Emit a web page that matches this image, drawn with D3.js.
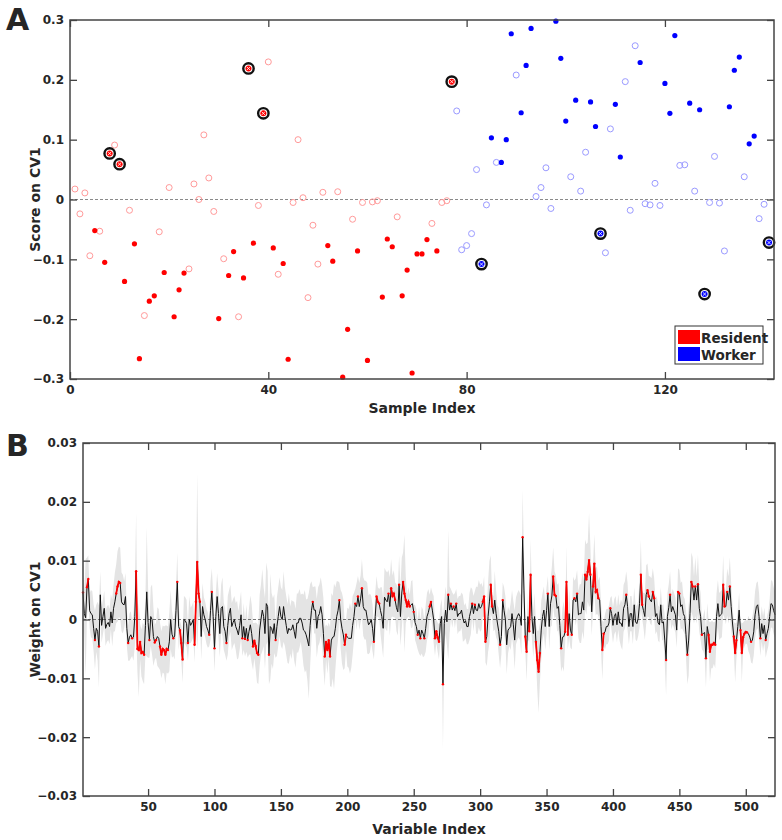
<!DOCTYPE html>
<html>
<head>
<meta charset="utf-8">
<script src="https://cdn.jsdelivr.net/npm/d3@7"></script>
<style>
  body { margin: 0; background: #fff; }
  svg { display: block; }
  text { font-family: "DejaVu Sans", sans-serif; font-weight: bold; fill: #262626; }
</style>
</head>
<body>
<svg width="782" height="840"></svg>
<script>
// ---- Panel A: scores of each sample on CV1 ----
const groupNames = ["Resident", "Worker"];
const groupColors = ["#ff0000", "#0000ff"];
const groupLight = ["#ff9a9a", "#9a9aff"];
const residentCount = 77; // samples 1..77 are residents, the rest workers

const sampleScore = [
  0.0175, -0.024, 0.011, -0.094, -0.052, -0.053, -0.105, 0.077, 0.091, 0.059,
  -0.137, -0.018, -0.074, -0.266, -0.194, -0.170, -0.161, -0.054, -0.122, 0.020,
  -0.196, -0.151, -0.123, -0.116, 0.026, 0.000, 0.108, 0.036, -0.020, -0.199,
  -0.099, -0.127, -0.087, -0.196, -0.131, 0.219, -0.073, -0.010, 0.144, 0.230,
  -0.081, -0.125, -0.107, -0.267, -0.005, 0.100, 0.003, -0.164, -0.043, -0.108,
  0.012, -0.077, -0.103, 0.013, -0.297, -0.217, -0.033, -0.086, -0.005, -0.269,
  -0.004, -0.002, -0.163, -0.066, -0.079, -0.029, -0.161, -0.118, -0.290, -0.091,
  -0.091, -0.067, -0.040, -0.086, -0.005, -0.002, 0.197, 0.148, -0.084, -0.077,
  -0.057, 0.050, -0.108, -0.009, 0.103, 0.062, 0.062, 0.100, 0.277, 0.208,
  0.145, 0.224, 0.286, 0.005, 0.020, 0.053, -0.015, 0.298, 0.236, 0.131,
  0.038, 0.166, 0.014, 0.079, 0.163, 0.122, -0.057, -0.089, 0.118, 0.159,
  0.071, 0.197, -0.018, 0.257, 0.229, -0.007, -0.009, 0.027, -0.010, 0.194,
  0.144, 0.274, 0.057, 0.058, 0.161, 0.014, 0.150, -0.158, -0.005, 0.072,
  -0.006, -0.086, 0.155, 0.216, 0.238, 0.038, 0.093, 0.106, -0.032, -0.008,
  -0.072
];
// h = hollow, f = filled, c = circled
const sampleMarker = (
  "hhhhfhfchc" + "fhffhffhfh" + "fffhhhhhhf" + "hffhfcfhch" + "fhffhhhhhh" +
  "hffhffhfhf" + "hhfffhffff" + "ffhfhhchhh" + "hhchfhfffh" + "fffhhhhfff" +
  "hfhhffchhf" + "fhhhfhhhhf" + "ffhhfhfchh" + "hhfffhffhh" + "c"
).split("");

const scoreTicksX = [0, 40, 80, 120];
const scoreTicksY = [-0.3, -0.2, -0.1, 0, 0.1, 0.2, 0.3];

// ---- Panel B: weight of each variable on CV1 (x 1e-3) ----
const weightMilli = [
  4.6, 1.0, 0.3, 5.5, 6.9, 1.5, 1.0, 0.8, -1.5, -3.5,
  -1.5, -2.0, -4.6, 4.2, -1.0, 0.5, 1.9, -1.5, -0.8, -0.5,
  -1.2, 1.3, -0.6, 1.9, 3.0, 4.4, 5.6, 6.4, 6.2, 3.0,
  2.6, 2.5, 3.9, -1.5, -4.0, -3.0, -2.6, -3.2, -3.0, 0.5,
  8.2, -5.0, -5.2, -3.8, -5.7, -5.5, -6.0, -1.0, 4.7, -0.5,
  -3.5, 0.5, 0.0, -2.9, -3.9, -3.5, -2.9, -3.2, -4.6, -6.0,
  -5.0, -5.2, -6.0, -5.0, -5.2, -3.8, 0.0, -2.5, -3.2, -2.8,
  1.5, 6.4, -1.2, -1.8, -4.0, -6.8, 0.0, -0.2, -0.7, -4.0,
  0.0, -1.0, -0.6, 0.0, -4.3, 3.0, 9.8, 4.4, 3.0, -2.9,
  2.2, 0.8, 0.0, -1.2, -1.8, -2.6, 1.5, 4.7, 0.5, -4.9,
  0.5, 3.9, 1.0, -2.4, 1.9, 2.2, -1.2, -2.0, -4.0, -1.0,
  1.0, 1.9, -1.2, -0.5, 0.0, -1.2, -1.8, -2.6, -1.0, 0.8,
  -3.2, -1.2, -3.3, -1.5, -3.5, -2.0, -0.9, -2.4, -4.6, -3.6,
  -4.5, -5.7, -6.0, -1.8, 0.0, 1.6, 0.5, -2.4, 2.7, 2.2,
  -6.0, -1.2, -1.5, -2.4, -0.7, -3.5, -1.2, 0.5, 2.2, 0.5,
  0.0, 2.2, 0.5, -1.0, -2.4, -1.5, -1.8, -1.7, -0.9, -2.0,
  -3.2, -0.6, -0.6, 0.2, 0.2, -0.6, -1.8, -2.0, -2.6, -3.5,
  -4.5, -1.0, 1.5, 3.0, 1.6, 1.6, -1.5, 0.5, 1.0, 2.2,
  0.8, -2.4, -6.3, -3.8, -5.2, -3.5, -6.3, -3.5, -3.0, -2.9,
  -1.5, 0.5, 1.5, 3.3, 0.0, -1.5, -2.6, -4.3, -2.6, -3.0,
  -3.2, -3.2, -3.2, -1.0, 0.5, 2.7, 2.2, 3.9, 2.2, 3.5,
  5.3, 2.2, 1.6, 1.6, 0.2, -0.9, -0.6, 0.0, -1.5, -3.8,
  0.5, 3.9, 3.0, 2.7, 1.5, 0.5, -1.5, 3.8, 3.3, 3.0,
  4.4, 2.2, 5.3, 4.0, 4.4, 3.3, 2.0, 1.3, 5.9, 0.5,
  4.5, 6.4, 4.4, 3.3, 2.2, 3.0, 2.2, 2.5, 2.7, 1.3,
  -0.5, -1.2, -2.6, -1.8, -3.2, -1.8, -2.4, -3.2, -1.5, 0.5,
  1.2, 2.2, 3.0, 1.6, 0.0, -3.2, -2.0, -3.0, -3.8, -0.7,
  0.5, -11.0, -0.7, 1.6, -0.4, 4.2, 1.6, 2.7, 1.6, 2.2,
  1.5, 2.7, 0.5, 1.0, 1.0, 1.6, 0.2, -0.6, -0.2, -1.2,
  -1.2, 0.5, 1.5, 2.7, 1.0, 2.5, 1.6, 1.5, 2.7, 1.9,
  2.2, 3.0, 3.9, -3.8, -2.9, 0.5, 3.0, 5.9, 2.2, 1.0,
  3.3, 1.0, -0.6, -2.0, -4.3, -2.9, 3.3, 1.5, 0.0, -4.3,
  -1.8, -1.5, -1.2, 1.0, -0.9, -3.5, -0.2, 0.5, 1.0, 0.5,
  -1.0, 14.0, 5.0, -2.9, -5.5, 0.5, -2.0, 7.6, 0.5, -2.4,
  0.5, -3.8, -6.9, -8.9, -5.7, -1.8, 0.5, 1.6, -1.2, 1.5,
  4.4, -1.2, 2.7, 4.0, 7.3, 4.2, 4.0, 1.9, 2.2, -1.0,
  -4.9, -3.0, -2.9, -2.1, 6.4, -2.6, 1.0, -1.8, -2.6, 3.3,
  3.6, 3.0, 4.4, 0.8, 1.0, 1.0, 3.0, 1.6, 7.6, 6.8,
  8.1, 10.1, 7.6, 1.3, 5.6, 9.5, 4.7, 5.0, 3.6, 3.3,
  -1.2, -5.2, -2.4, -2.1, -1.2, -1.2, -0.6, 1.9, 1.0, -1.0,
  0.5, 1.0, -0.9, 1.3, -0.6, -0.6, -1.2, 1.9, 2.5, 4.2,
  2.2, -1.2, 1.0, 1.0, -1.2, 2.5, -0.4, -0.7, 0.2, 2.7,
  7.6, 2.5, 1.5, 0.5, 4.2, 5.0, 3.9, 3.3, 3.0, 4.7,
  3.6, 0.5, 1.0, -0.6, -0.9, 2.5, -0.6, -0.4, -3.5, -6.9,
  0.5, 2.0, 4.2, 1.3, 2.2, 1.5, 0.8, -1.8, 4.7, 4.4,
  2.2, 2.5, 1.0, 0.5, -2.6, -6.0, -3.5, 1.0, 6.4, 5.6,
  3.3, 5.6, 3.3, 6.0, 1.9, 0.5, -2.6, -2.4, -2.2, -6.6,
  -1.2, -2.6, -5.5, -4.3, -4.3, -4.0, -4.3, 0.5, 2.7, 0.5,
  0.8, 1.0, 5.9, 2.2, 2.2, 4.7, 3.3, 5.6, 2.2, -0.6,
  -2.9, -5.7, -3.5, -1.2, 1.6, -1.8, -5.7, -3.0, -2.4, -2.1,
  -2.2, -2.4, -3.0, -3.8, -3.5, -2.1, 0.8, 2.2, 2.5, 0.5,
  -3.2, -0.7, -2.4, -1.0, -3.5, -2.4, -1.5, 0.5, 2.7, 2.5,
  1.5, 0.8
];
// half width of the bootstrap interval (x 1e-3)
const ciMilli = [
  3, 4, 10, 5, 4, 3, 4, 4, 4, 5,
  4, 5, 7, 4, 3, 3, 3, 3, 3, 3,
  3, 3, 4, 4, 5, 5, 6, 6, 6, 5,
  5, 4, 4, 3, 3, 4, 4, 3, 4, 5,
  10, 4, 8, 3, 4, 5, 5, 5, 11, 6,
  3, 5, 6, 5, 3, 3, 5, 5, 4, 4,
  4, 4, 5, 4, 4, 5, 5, 4, 3, 4,
  4, 5, 4, 1.5, 3, 4, 4, 4, 4, 3,
  4, 3, 3, 3, 3, 2.5, 15, 4, 2.5, 4,
  4, 3, 3, 3, 3, 2, 5, 4, 4, 4,
  4, 4, 4, 4, 4, 5, 4, 4, 3, 5,
  4, 4, 4, 4, 4, 4, 5, 4, 4, 4,
  3, 4, 3, 4, 3, 4, 5, 5, 4, 3,
  4, 5, 5, 6, 6, 7, 5, 6, 7, 6,
  5, 9, 6, 6, 5, 3, 5, 5, 5, 5,
  5, 6, 5, 5, 5, 6, 4, 5, 4, 5,
  5, 5, 5, 5, 4, 5, 6, 7, 6, 7,
  9, 7, 5, 2.5, 4, 4, 5, 5, 5, 5,
  5, 6, 5, 3, 4, 3, 5, 8, 7, 9,
  7, 6, 5, 3, 5, 6, 6, 4, 2.5, 5,
  5, 6, 5, 5, 4, 2.5, 4, 3.5, 4, 4,
  5, 5, 5, 5, 6, 5, 5, 4, 4, 3,
  4, 3.5, 2.5, 2.5, 4, 5, 5, 5, 5, 5,
  4, 5, 5, 3.5, 4, 3, 4, 4, 5, 5,
  6, 5, 10, 4, 2, 2.5, 2, 4, 4, 1.2,
  3, 3, 2.5, 4, 3, 4, 4, 3, 4, 4,
  4, 2, 2.5, 3, 4, 3, 2, 2.5, 3, 3,
  3, 11, 4, 4, 4, 11, 4, 2.5, 3, 2,
  3, 2.5, 3, 3, 3, 3, 4, 3, 3, 3,
  3, 4, 4, 2.5, 3, 2.3, 4, 4, 4, 4,
  4, 2.5, 3.5, 3.5, 5, 6, 7, 5, 2, 3,
  5, 4, 3, 4, 4, 3, 3, 4, 4, 5,
  4, 3, 4, 4, 4, 5, 4, 4, 4, 4,
  5, 8, 6, 2.5, 5, 4, 1.8, 6, 4, 4,
  4, 3, 5, 7, 5, 5, 4, 4, 4, 4,
  3, 4, 4, 5, 5, 4, 3.5, 4, 4, 4,
  4, 5, 6, 2, 6, 2.5, 4, 3, 2.5, 4,
  3, 4, 4, 4, 5, 5, 5, 5, 6, 6,
  5, 8, 5, 4, 4, 5, 4, 4, 3, 4,
  4, 5, 2, 3, 3, 3, 3, 1.8, 3, 3,
  3, 3, 3, 3, 3, 4, 4, 4, 4, 4,
  4, 3, 3, 3, 3, 3, 3, 3, 3, 4,
  6, 2.4, 3, 4, 5, 4.5, 3.5, 4, 4, 4,
  3.5, 3, 3, 3, 3, 3, 3, 3, 4, 6,
  4, 4, 4, 3, 3, 3, 3, 3, 4, 4,
  4, 4, 3, 3, 4, 5, 6, 4, 5, 5,
  4, 5, 4, 5, 4, 4, 2.5, 3, 4, 5,
  4, 2.5, 5, 4, 4, 3.5, 4, 4, 4, 4,
  4, 4, 5, 2, 3, 4, 4, 5, 4, 3,
  2.5, 5, 3, 3, 3, 1.6, 5, 2.5, 2.2, 2,
  2, 3, 3, 3.5, 4, 4, 4, 4, 4, 4,
  3, 3, 3, 3, 3, 3, 3, 3, 4, 4,
  4, 4
];
// variables whose interval excludes zero (drawn red)
const sigIndex = [
  1, 4, 5, 10, 13, 26, 27, 28, 29, 35, 38, 41, 42, 43, 44, 45, 46, 47, 51, 55, 56,
  59, 60, 61, 62, 63, 64, 65, 69, 72, 74, 75, 76, 80, 85, 86, 87, 88, 89, 96, 98, 100,
  109, 121, 123, 125, 129, 130, 131, 132, 133, 141, 146, 174, 183, 184, 185, 186, 187,
  194, 198, 199, 206, 208, 211, 220, 222, 223, 224, 231, 233, 234, 235, 236, 239,
  242, 243, 244, 245, 246, 247, 250, 253, 255, 258, 262, 263, 266, 267, 268, 269,
  272, 276, 278, 280, 282, 294, 296, 302, 303, 304, 308, 309, 315, 317, 332, 334, 335,
  337, 338, 342, 343, 344, 345, 351, 355, 356, 357, 361, 364, 365, 366, 369, 371, 373,
  379, 380, 381, 382, 383, 385, 386, 387, 388, 389, 392, 393, 398, 410, 421, 422,
  426, 427, 430, 431, 440, 443, 449, 450, 456, 459, 460, 462, 464, 467, 470, 472,
  473, 474, 475, 476, 477, 483, 484, 486, 488, 491, 492, 493, 496, 497, 498, 499,
  500, 501, 504, 511, 515
];

const weightTicksX = [50, 100, 150, 200, 250, 300, 350, 400, 450, 500];
const weightTicksY = [-0.03, -0.02, -0.01, 0, 0.01, 0.02, 0.03];

const svg = d3.select("svg");

// box with inward ticks on all four sides, labels on left and bottom
function drawFrame(area, sx, sy, ticksX, ticksY, fmtX, fmtY) {
    const g = svg.append("g");
    g.append("g")
        .attr("transform", `translate(0,${area.bottom})`)
        .call(d3.axisBottom(sx).tickValues(ticksX).tickSizeInner(-7).tickSizeOuter(0).tickPadding(6).tickFormat(fmtX));
    g.append("g")
        .attr("transform", `translate(0,${area.top})`)
        .call(d3.axisTop(sx).tickValues(ticksX).tickSizeInner(-7).tickSizeOuter(0).tickFormat(""));
    g.append("g")
        .attr("transform", `translate(${area.left},0)`)
        .call(d3.axisLeft(sy).tickValues(ticksY).tickSizeInner(-7).tickSizeOuter(0).tickPadding(6).tickFormat(fmtY));
    g.append("g")
        .attr("transform", `translate(${area.right},0)`)
        .call(d3.axisRight(sy).tickValues(ticksY).tickSizeInner(-7).tickSizeOuter(0).tickFormat(""));
    g.selectAll(".domain").remove();
    g.selectAll(".tick line").attr("stroke", "#444").attr("stroke-width", 1.3);
    g.selectAll(".tick text")
        .attr("font-family", "DejaVu Sans, sans-serif")
        .attr("font-weight", "bold")
        .attr("font-size", 12)
        .attr("fill", "#262626");
    g.append("rect")
        .attr("x", area.left).attr("y", area.top)
        .attr("width", area.right - area.left).attr("height", area.bottom - area.top)
        .attr("fill", "none").attr("stroke", "#444").attr("stroke-width", 1.5);
}

function minusFmt(spec) {
    const f = d3.format(spec);
    return d => d === 0 ? "0" : f(d);
}

// ================= Panel A =================
const areaA = { left: 70, right: 774, top: 20, bottom: 379 };
const xA = d3.scaleLinear().domain([0, 142]).range([areaA.left, areaA.right]);
const yA = d3.scaleLinear().domain([-0.3, 0.3]).range([areaA.bottom, areaA.top]);

svg.append("line")
    .attr("x1", areaA.left).attr("x2", areaA.right)
    .attr("y1", yA(0)).attr("y2", yA(0))
    .attr("stroke", "#8a8a8a").attr("stroke-width", 1).attr("stroke-dasharray", "3,2");

const samples = sampleScore.map((v, i) => ({
    idx: i + 1,
    v: v,
    mark: sampleMarker[i],
    g: i < residentCount ? 0 : 1
}));

const gPts = svg.append("g");
gPts.selectAll(".hollow")
    .data(samples.filter(d => d.mark === "h"))
    .enter().append("circle")
    .attr("cx", d => xA(d.idx)).attr("cy", d => yA(d.v)).attr("r", 3)
    .attr("fill", "none").attr("stroke", d => groupLight[d.g]).attr("stroke-width", 1);

gPts.selectAll(".filled")
    .data(samples.filter(d => d.mark === "f"))
    .enter().append("circle")
    .attr("cx", d => xA(d.idx)).attr("cy", d => yA(d.v)).attr("r", 2.6)
    .attr("fill", d => groupColors[d.g]);

const circled = gPts.selectAll(".circled")
    .data(samples.filter(d => d.mark === "c"))
    .enter().append("g")
    .attr("transform", d => `translate(${xA(d.idx)},${yA(d.v)})`);
circled.append("circle").attr("r", 5.2).attr("fill", "#fff").attr("stroke", "#111").attr("stroke-width", 2.4);
circled.append("circle").attr("r", 3).attr("fill", d => groupColors[d.g]);
circled.append("path").attr("d", "M-1.8,-1.8L1.8,1.8M-1.8,1.8L1.8,-1.8")
    .attr("stroke", "#fff").attr("stroke-width", 0.8);

drawFrame(areaA, xA, yA, scoreTicksX, scoreTicksY, d3.format("d"), minusFmt(".1f"));

// legend
const leg = svg.append("g").attr("transform", "translate(675,326)");
leg.append("rect").attr("width", 88).attr("height", 38)
    .attr("fill", "#fff").attr("stroke", "#333").attr("stroke-width", 1);
groupNames.forEach((name, i) => {
    leg.append("rect").attr("x", 3).attr("y", 4 + i * 17).attr("width", 22).attr("height", 14)
        .attr("fill", groupColors[i]);
    leg.append("text").attr("x", 26).attr("y", 16.5 + i * 17)
        .attr("font-size", 13.5).attr("fill", "#111").text(name);
});

svg.append("text").attr("x", (areaA.left + areaA.right) / 2).attr("y", 413)
    .attr("text-anchor", "middle").attr("font-size", 14).text("Sample Index");
svg.append("text").attr("transform", `translate(40,${(areaA.top + areaA.bottom) / 2}) rotate(-90)`)
    .attr("text-anchor", "middle").attr("font-size", 14).text("Score on CV1");
svg.append("text").attr("x", 6).attr("y", 30).attr("font-size", 30).attr("fill", "#000").text("A");

// ================= Panel B =================
const areaB = { left: 83, right: 775, top: 443, bottom: 796 };
const xB = d3.scaleLinear().domain([1, weightMilli.length]).range([areaB.left, areaB.right]);
const yB = d3.scaleLinear().domain([-0.03, 0.03]).range([areaB.bottom, areaB.top]);

const vars = weightMilli.map((w, i) => ({
    idx: i + 1,
    w: w / 1000,
    lo: (w - ciMilli[i]) / 1000,
    hi: (w + ciMilli[i]) / 1000
}));

const gB = svg.append("g");
gB.append("path").datum(vars)
    .attr("d", d3.area().x(d => xB(d.idx)).y0(d => yB(d.lo)).y1(d => yB(d.hi)))
    .attr("fill", "#e4e4e4");

gB.append("line")
    .attr("x1", areaB.left).attr("x2", areaB.right)
    .attr("y1", yB(0)).attr("y2", yB(0))
    .attr("stroke", "#555").attr("stroke-width", 0.8).attr("stroke-dasharray", "3,2");

const lineB = d3.line().x(d => xB(d.idx)).y(d => yB(d.w));
gB.append("path").datum(vars).attr("d", lineB)
    .attr("fill", "none").attr("stroke", "#111").attr("stroke-width", 1);

// red overlay: runs of consecutive significant variables
const sigSet = new Set(sigIndex);
const redLine = d3.line()
    .defined(d => sigSet.has(d.idx))
    .x(d => xB(d.idx)).y(d => yB(d.w));
gB.append("path").datum(vars).attr("d", redLine)
    .attr("fill", "none").attr("stroke", "#ff0000").attr("stroke-width", 1.7);
gB.selectAll(".sig")
    .data(vars.filter(d => sigSet.has(d.idx)))
    .enter().append("circle")
    .attr("cx", d => xB(d.idx)).attr("cy", d => yB(d.w)).attr("r", 1.2)
    .attr("fill", "#ff0000");

drawFrame(areaB, xB, yB, weightTicksX, weightTicksY, d3.format("d"), minusFmt(".2f"));

svg.append("text").attr("x", (areaB.left + areaB.right) / 2).attr("y", 834)
    .attr("text-anchor", "middle").attr("font-size", 14).text("Variable Index");
svg.append("text").attr("transform", `translate(40,${(areaB.top + areaB.bottom) / 2}) rotate(-90)`)
    .attr("text-anchor", "middle").attr("font-size", 14).text("Weight on CV1");
svg.append("text").attr("x", 6).attr("y", 456).attr("font-size", 30).attr("fill", "#000").text("B");
</script>
</body>
</html>
